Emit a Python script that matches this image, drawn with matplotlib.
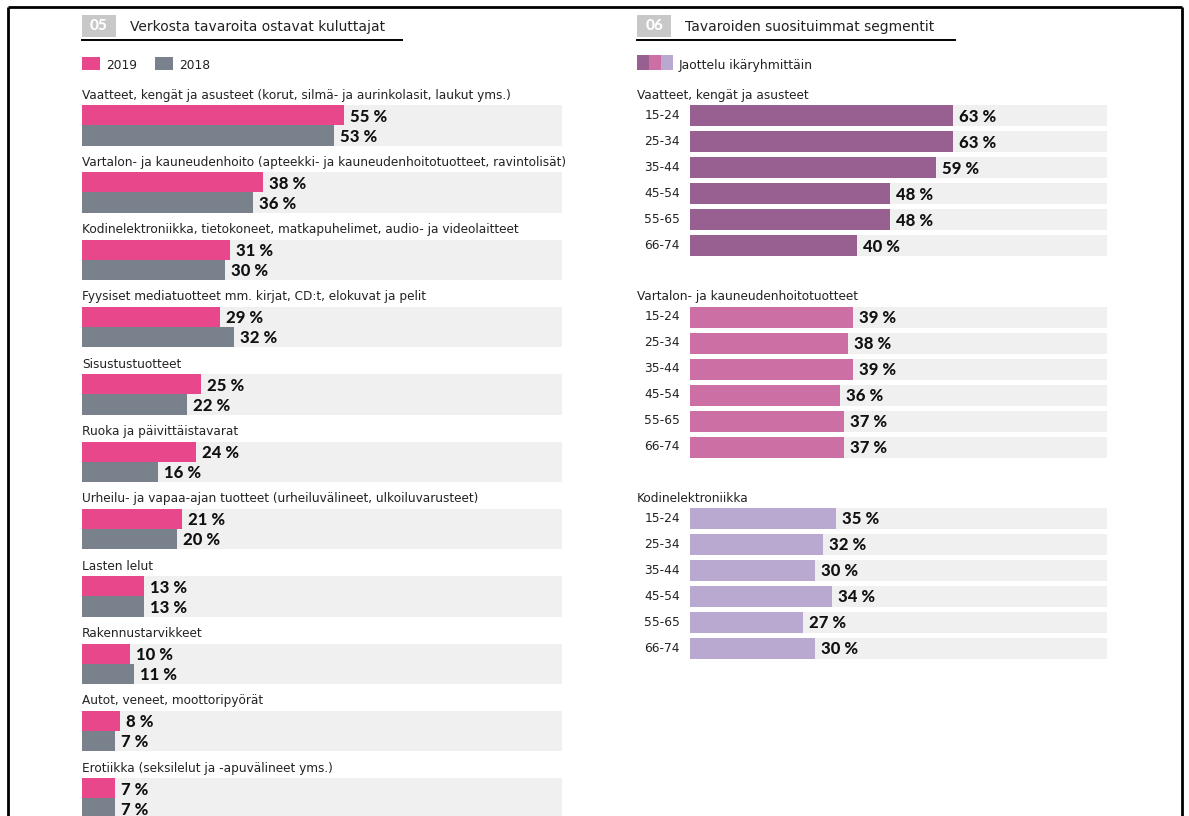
import matplotlib.pyplot as plt
from matplotlib.patches import Rectangle
from matplotlib.lines import Line2D

# ---- data -------------------------------------------------------------
categories = [
    "Vaatteet, kengät ja asusteet (korut, silmä- ja aurinkolasit, laukut yms.)",
    "Vartalon- ja kauneudenhoito (apteekki- ja kauneudenhoitotuotteet, ravintolisät)",
    "Kodinelektroniikka, tietokoneet, matkapuhelimet, audio- ja videolaitteet",
    "Fyysiset mediatuotteet mm. kirjat, CD:t, elokuvat ja pelit",
    "Sisustustuotteet",
    "Ruoka ja päivittäistavarat",
    "Urheilu- ja vapaa-ajan tuotteet (urheiluvälineet, ulkoiluvarusteet)",
    "Lasten lelut",
    "Rakennustarvikkeet",
    "Autot, veneet, moottoripyörät",
    "Erotiikka (seksilelut ja -apuvälineet yms.)",
]
share_2019 = [55, 38, 31, 29, 25, 24, 21, 13, 10, 8, 7]
share_2018 = [53, 36, 30, 32, 22, 16, 20, 13, 11, 7, 7]
years = ["2019", "2018"]

age_groups = ["15-24", "25-34", "35-44", "45-54", "55-65", "66-74"]
segment_titles = [
    "Vaatteet, kengät ja asusteet",
    "Vartalon- ja kauneudenhoitotuotteet",
    "Kodinelektroniikka",
]
clothing = [63, 63, 59, 48, 48, 40]
beauty = [39, 38, 39, 36, 37, 37]
electronics = [35, 32, 30, 34, 27, 30]
segments = [clothing, beauty, electronics]

# ---- style ------------------------------------------------------------
PINK = "#E8478B"
SLATE = "#78818C"
TRACK = "#F0F0F0"
SEG_COLORS = ["#985F91", "#CC6FA4", "#B9A8D0"]
TEXT = "#222222"
BODY_FONT = "DejaVu Sans"
NUM_FONT = "Lato"

W, H = 1189, 816
fig = plt.figure(figsize=(W / 100, H / 100), dpi=100)
fig.patch.set_facecolor("white")

# overlay in pixel units for frame, headings and legends
deco = fig.add_axes([0, 0, 1, 1])
deco.set_xlim(0, W)
deco.set_ylim(H, 0)
deco.axis("off")

# page frame (open at the bottom)
for xs, ys in [((8, 8), (7, H)), ((8, 1182), (7, 7)), ((1182, 1182), (7, H))]:
    deco.add_line(Line2D(xs, ys, color="black", lw=2, solid_capstyle="butt"))


def heading(x0, x1, num, title):
    deco.add_patch(Rectangle((x0, 15), 34, 22, color="#C8C8C8", lw=0))
    deco.text(x0 + 17, 26.5, num, ha="center", va="center", color="white",
              fontsize=11, fontweight="black", family=NUM_FONT)
    deco.text(x0 + 48, 27.5, title, ha="left", va="center", color=TEXT,
              fontsize=10, family=BODY_FONT)
    deco.add_line(Line2D((x0, x1), (40, 40), color="black", lw=1.4))


heading(82, 402, "05", "Verkosta tavaroita ostavat kuluttajat")
heading(637, 955, "06", "Tavaroiden suosituimmat segmentit")

# legend, left panel
for lx, col, yr in [(82, PINK, years[0]), (155, SLATE, years[1])]:
    deco.add_patch(Rectangle((lx, 57), 18, 13, color=col, lw=0))
    deco.text(lx + 24, 65.5, yr, ha="left", va="center", color=TEXT,
              fontsize=8.8, family=BODY_FONT)

# legend, right panel
for k, col in enumerate(SEG_COLORS):
    deco.add_patch(Rectangle((637 + 12 * k, 55), 12, 15, color=col, lw=0))
deco.text(679, 66, "Jaottelu ikäryhmittäin", ha="left", va="center",
          color=TEXT, fontsize=8.9, family=BODY_FONT)

# ---- left panel: 2019 vs 2018 ------------------------------------------
PX_PER_PCT_L = 4.76
XMAX_L = 100.8
axL = fig.add_axes([82 / W, 0, XMAX_L * PX_PER_PCT_L / W, 1])
axL.set_xlim(0, XMAX_L)
axL.set_ylim(H, 0)
axL.axis("off")

GROUP_STEP = 67.33
for i, (cat, v19, v18) in enumerate(zip(categories, share_2019, share_2018)):
    top = 105 + i * GROUP_STEP
    axL.barh(top + 20.25, XMAX_L, height=40.5, left=0, color=TRACK, lw=0)
    axL.barh(top + 10, v19, height=20, color=PINK, lw=0)
    axL.barh(top + 30.25, v18, height=20.5, color=SLATE, lw=0)
    axL.text(0, top - 10, cat, ha="left", va="center", color=TEXT,
             fontsize=8.7, family=BODY_FONT)
    for yc, v in [(top + 11.5, v19), (top + 31.5, v18)]:
        axL.annotate(f"{v} %", xy=(v, yc), xytext=(6, 0),
                     textcoords="offset pixels", ha="left", va="center",
                     fontsize=12, fontweight="black", color="#111111",
                     family=NUM_FONT, annotation_clip=False)

# ---- right panel: segments by age group --------------------------------
PX_PER_PCT_R = 4.17
axR = fig.add_axes([690 / W, 0, 100 * PX_PER_PCT_R / W, 1])
axR.set_xlim(0, 100)
axR.set_ylim(H, 0)
axR.axis("off")

SEG_STEP = 201.5
ROW_STEP = 26
for g, (title, vals) in enumerate(zip(segment_titles, segments)):
    first = 105 + g * SEG_STEP
    axR.annotate(title, xy=(0, first - 10), xytext=(-53, 0),
                 textcoords="offset pixels", ha="left", va="center",
                 color=TEXT, fontsize=8.7, family=BODY_FONT,
                 annotation_clip=False)
    for k, (age, v) in enumerate(zip(age_groups, vals)):
        yc = first + k * ROW_STEP + 10.5
        axR.barh(yc, 100, height=21, color=TRACK, lw=0)
        axR.barh(yc, v, height=21, color=SEG_COLORS[g], lw=0)
        axR.annotate(age, xy=(0, yc), xytext=(-10, 0),
                     textcoords="offset pixels", ha="right", va="center",
                     color=TEXT, fontsize=8.8, family=BODY_FONT,
                     annotation_clip=False)
        axR.annotate(f"{v} %", xy=(v, yc + 1), xytext=(6, 0),
                     textcoords="offset pixels", ha="left", va="center",
                     fontsize=12, fontweight="black", color="#111111",
                     family=NUM_FONT, annotation_clip=False)

fig.savefig("out.png", dpi=100, facecolor="white")
